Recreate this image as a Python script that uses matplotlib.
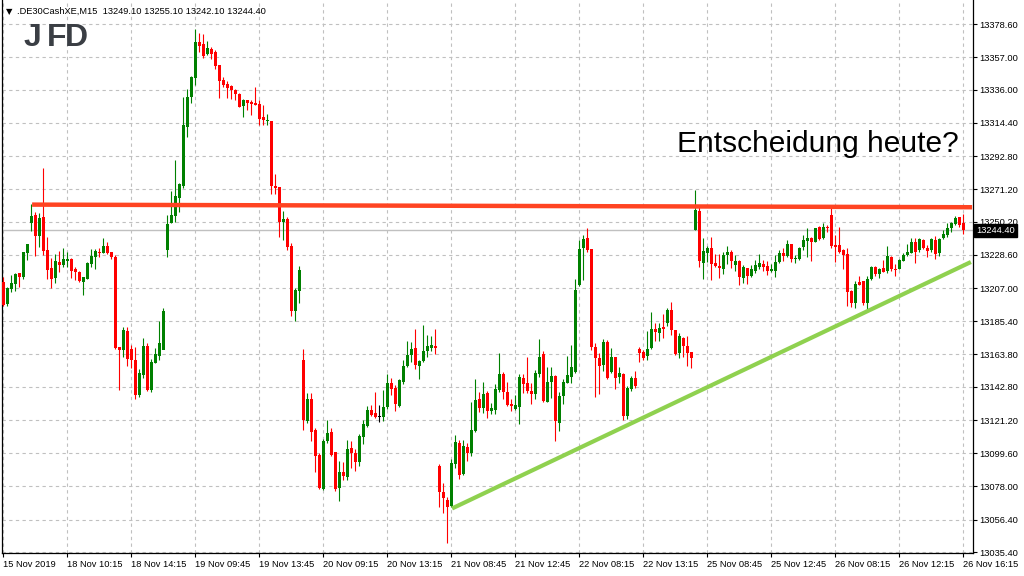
import matplotlib
matplotlib.use("Agg")
import matplotlib.pyplot as plt
import numpy as np

# DE30 15-minute candles, 15 Nov 2019 .. 26 Nov 2019 16:15
opens = [
    13211.1, 13196.6, 13206.4, 13209.6, 13216.8, 13214.4, 13229.9, 13249.4, 13254.4, 13240.8,
    13253.1, 13231.7, 13220.0, 13213.7, 13223.9, 13221.8, 13224.6, 13225.9, 13219.4, 13217.4,
    13211.1, 13213.0, 13222.4, 13227.4, 13230.6, 13230.0, 13234.3, 13230.4, 13227.2, 13168.7,
    13166.7, 13179.1, 13167.4, 13160.2, 13137.5, 13150.5, 13169.3, 13140.7, 13158.4, 13163.0,
    13166.7, 13231.7, 13249.5, 13253.8, 13265.7, 13273.3, 13311.9, 13331.2, 13343.7, 13366.9,
    13365.6, 13359.3, 13362.4, 13360.4, 13352.0, 13342.2, 13339.6, 13338.3, 13335.7, 13333.1,
    13325.3, 13329.2, 13328.1, 13327.3, 13326.8, 13318.2, 13315.8, 13315.6, 13273.5, 13272.7,
    13249.9, 13251.9, 13234.3, 13192.1, 13205.3, 13160.2, 13120.8, 13134.9, 13114.7, 13098.5,
    13076.4, 13107.8, 13113.4, 13100.4, 13077.2, 13087.4, 13084.2, 13103.0, 13099.8, 13093.7,
    13110.4, 13117.5, 13127.7, 13125.8, 13123.0, 13123.4, 13129.7, 13145.3, 13142.2, 13130.5,
    13145.9, 13156.5, 13163.5, 13168.0, 13156.5, 13159.6, 13166.3, 13168.2, 13169.5, 13091.3,
    13074.6, 13069.2, 13065.3, 13092.6, 13106.5, 13086.1, 13103.9, 13099.6, 13114.3, 13134.9,
    13129.2, 13139.0, 13127.1, 13127.7, 13140.7, 13151.1, 13139.4, 13131.8, 13128.4, 13129.9,
    13148.5, 13145.3, 13140.1, 13138.1, 13151.1, 13164.1, 13133.1, 13145.7, 13149.8, 13119.5,
    13136.8, 13145.5, 13149.0, 13152.6, 13209.0, 13233.2, 13239.3, 13232.4, 13168.9, 13161.7,
    13157.0, 13171.7, 13152.6, 13162.0, 13149.0, 13150.9, 13123.8, 13141.2, 13148.3, 13167.2,
    13165.6, 13162.8, 13167.8, 13180.4, 13177.6, 13181.9, 13184.5, 13192.7, 13179.7, 13164.6,
    13174.7, 13169.5, 13165.6, 13244.7, 13257.3, 13223.5, 13230.0, 13232.8, 13223.1, 13221.3,
    13219.6, 13228.5, 13230.2, 13222.0, 13224.6, 13213.7, 13219.8, 13214.8, 13218.3, 13220.9,
    13222.6, 13221.3, 13217.9, 13218.3, 13223.9, 13230.0, 13227.8, 13235.6, 13226.1, 13225.7,
    13233.9, 13237.8, 13239.5, 13237.1, 13246.5, 13239.3, 13246.5, 13254.5, 13235.0, 13235.0,
    13231.7, 13229.1, 13205.1, 13197.5, 13211.1, 13211.8, 13197.5, 13212.9, 13220.9, 13216.1,
    13220.2, 13218.3, 13227.4, 13219.6, 13219.4, 13224.8, 13228.5, 13230.0, 13237.1, 13231.7,
    13238.2, 13233.2, 13231.7, 13238.2, 13229.6, 13239.3, 13241.5, 13245.8, 13248.4, 13253.0,
    13249.1,
]
highs = [
    13214.3, 13207.8, 13215.4, 13216.9, 13217.0, 13230.6, 13235.6, 13261.6, 13256.6, 13255.5,
    13285.0, 13240.2, 13226.7, 13229.1, 13231.2, 13232.8, 13230.2, 13226.3, 13220.5, 13217.9,
    13214.3, 13223.7, 13232.2, 13232.5, 13232.8, 13239.5, 13236.9, 13230.4, 13228.3, 13168.9,
    13181.5, 13181.5, 13169.8, 13168.5, 13154.2, 13174.7, 13171.1, 13160.9, 13168.2, 13185.6,
    13193.8, 13254.5, 13270.1, 13290.2, 13275.5, 13331.2, 13336.4, 13344.8, 13375.4, 13372.6,
    13372.1, 13367.6, 13363.7, 13361.7, 13352.0, 13344.0, 13341.6, 13339.0, 13336.4, 13333.6,
    13329.9, 13329.2, 13329.2, 13337.7, 13329.2, 13326.0, 13320.1, 13315.6, 13281.1, 13272.9,
    13257.3, 13253.2, 13236.5, 13207.0, 13221.3, 13167.4, 13138.6, 13138.8, 13116.0, 13099.6,
    13108.7, 13121.2, 13115.8, 13100.6, 13094.6, 13093.9, 13108.2, 13107.6, 13102.4, 13111.9,
    13121.2, 13130.5, 13131.0, 13139.4, 13131.0, 13140.7, 13151.1, 13148.5, 13144.0, 13147.7,
    13160.2, 13172.6, 13171.9, 13180.4, 13160.2, 13183.0, 13176.5, 13175.8, 13180.4, 13092.6,
    13080.3, 13071.4, 13095.7, 13111.5, 13108.2, 13108.2, 13106.5, 13133.1, 13147.9, 13139.6,
    13146.1, 13140.1, 13132.1, 13144.6, 13164.8, 13152.6, 13145.9, 13134.7, 13137.5, 13151.1,
    13151.1, 13162.4, 13145.1, 13153.7, 13173.9, 13166.1, 13155.9, 13155.9, 13150.3, 13139.6,
    13147.7, 13163.0, 13170.0, 13212.9, 13238.2, 13241.5, 13245.8, 13232.4, 13171.1, 13164.6,
    13173.7, 13173.2, 13167.8, 13162.4, 13155.9, 13151.6, 13143.3, 13150.0, 13153.1, 13168.9,
    13166.7, 13179.1, 13191.6, 13184.1, 13184.5, 13190.1, 13193.8, 13197.7, 13179.7, 13177.6,
    13175.4, 13175.8, 13165.6, 13270.7, 13261.0, 13239.3, 13234.3, 13240.0, 13229.1, 13229.1,
    13230.6, 13234.3, 13231.7, 13228.5, 13225.2, 13222.0, 13220.2, 13222.0, 13225.2, 13228.9,
    13225.2, 13224.8, 13222.6, 13228.5, 13231.7, 13233.2, 13238.2, 13235.6, 13228.5, 13233.9,
    13241.3, 13245.8, 13240.4, 13246.2, 13247.3, 13249.1, 13248.0, 13258.8, 13241.5, 13246.9,
    13232.2, 13233.2, 13205.7, 13211.6, 13214.8, 13211.8, 13214.8, 13221.3, 13221.5, 13220.2,
    13225.2, 13234.3, 13227.8, 13222.4, 13225.7, 13229.6, 13235.6, 13239.7, 13239.3, 13239.3,
    13238.7, 13235.0, 13239.3, 13240.8, 13239.3, 13244.7, 13249.5, 13250.1, 13253.8, 13253.4,
    13255.1,
]
lows = [
    13195.3, 13195.5, 13204.6, 13205.3, 13207.8, 13212.8, 13225.2, 13244.2, 13228.0, 13233.8,
    13228.4, 13212.9, 13207.2, 13210.4, 13217.6, 13220.9, 13220.9, 13213.5, 13212.2, 13211.1,
    13202.7, 13212.9, 13220.9, 13219.5, 13227.4, 13229.6, 13229.3, 13226.1, 13167.4, 13140.7,
    13162.4, 13156.5, 13155.2, 13134.9, 13136.0, 13148.7, 13140.3, 13139.6, 13158.1, 13160.2,
    13167.2, 13227.4, 13249.1, 13250.1, 13256.6, 13272.2, 13305.4, 13327.1, 13339.0, 13360.2,
    13356.7, 13358.7, 13355.9, 13349.4, 13330.7, 13337.9, 13330.5, 13329.9, 13329.2, 13324.5,
    13318.4, 13322.7, 13319.5, 13326.0, 13313.0, 13313.0, 13313.0, 13268.1, 13268.1, 13240.2,
    13238.2, 13231.7, 13188.8, 13185.8, 13197.5, 13114.7, 13119.1, 13107.8, 13087.6, 13076.2,
    13075.7, 13106.5, 13097.8, 13075.3, 13068.8, 13082.2, 13082.2, 13089.8, 13088.1, 13091.3,
    13105.6, 13116.9, 13124.0, 13122.7, 13120.1, 13120.8, 13128.4, 13137.7, 13127.3, 13129.9,
    13144.8, 13155.9, 13159.1, 13154.6, 13147.9, 13159.1, 13162.4, 13166.1, 13164.1, 13064.5,
    13061.0, 13041.5, 13064.9, 13090.0, 13082.9, 13085.5, 13094.8, 13097.8, 13113.6, 13126.2,
    13126.0, 13122.7, 13124.9, 13124.9, 13139.6, 13134.9, 13130.3, 13127.3, 13127.7, 13118.8,
    13138.6, 13139.0, 13131.6, 13134.9, 13149.0, 13133.1, 13132.7, 13135.3, 13107.8, 13114.3,
    13131.6, 13145.1, 13145.5, 13152.0, 13208.3, 13212.2, 13230.2, 13166.7, 13136.4, 13138.1,
    13153.1, 13147.7, 13151.6, 13141.4, 13145.1, 13121.2, 13121.9, 13140.1, 13142.2, 13159.1,
    13160.2, 13160.2, 13167.4, 13172.6, 13172.6, 13174.3, 13182.3, 13176.5, 13163.5, 13161.7,
    13162.4, 13156.3, 13155.2, 13244.7, 13220.9, 13212.9, 13224.1, 13212.2, 13220.9, 13213.3,
    13215.9, 13222.4, 13220.2, 13218.1, 13209.0, 13210.1, 13209.6, 13214.4, 13217.0, 13219.4,
    13218.3, 13215.5, 13217.4, 13214.0, 13223.5, 13224.6, 13227.4, 13224.1, 13223.5, 13225.2,
    13231.7, 13227.4, 13224.8, 13236.7, 13238.2, 13238.7, 13243.6, 13233.2, 13224.1, 13229.6,
    13219.2, 13195.3, 13194.9, 13194.2, 13209.0, 13196.0, 13193.4, 13212.2, 13214.8, 13213.3,
    13217.6, 13217.0, 13218.3, 13215.0, 13219.2, 13224.6, 13227.8, 13229.6, 13223.5, 13230.6,
    13232.4, 13227.4, 13230.6, 13226.1, 13227.8, 13238.7, 13240.4, 13243.6, 13248.0, 13246.9,
    13242.1,
]
closes = [
    13196.0, 13207.2, 13210.3, 13216.1, 13214.0, 13230.2, 13235.6, 13253.8, 13240.8, 13252.3,
    13231.2, 13218.7, 13212.9, 13224.6, 13222.0, 13225.9, 13225.9, 13218.3, 13217.6, 13211.6,
    13214.2, 13223.3, 13227.8, 13231.3, 13230.0, 13234.3, 13229.6, 13227.0, 13167.8, 13166.7,
    13179.7, 13160.7, 13160.2, 13137.5, 13152.0, 13169.3, 13140.7, 13159.1, 13164.1, 13171.5,
    13192.1, 13248.6, 13254.5, 13266.8, 13274.6, 13313.0, 13331.2, 13344.2, 13366.9, 13364.5,
    13358.0, 13363.0, 13359.1, 13351.5, 13341.6, 13339.0, 13337.2, 13335.7, 13333.1, 13324.7,
    13329.2, 13327.3, 13326.8, 13326.0, 13316.9, 13316.2, 13316.4, 13273.5, 13272.2, 13249.9,
    13251.9, 13233.5, 13192.1, 13205.7, 13218.7, 13121.2, 13134.9, 13113.6, 13098.0, 13076.8,
    13107.6, 13113.0, 13098.5, 13076.4, 13087.4, 13085.0, 13102.4, 13099.8, 13093.7, 13111.0,
    13118.6, 13127.7, 13124.5, 13123.4, 13123.0, 13129.7, 13145.3, 13141.6, 13131.6, 13147.2,
    13156.3, 13163.5, 13167.6, 13157.2, 13159.6, 13166.3, 13169.3, 13170.2, 13168.2, 13074.6,
    13070.3, 13064.9, 13093.5, 13107.1, 13085.5, 13104.3, 13099.6, 13114.7, 13134.2, 13129.2,
    13138.1, 13127.3, 13129.2, 13141.4, 13151.1, 13139.6, 13131.0, 13130.5, 13131.0, 13149.4,
    13144.8, 13140.1, 13138.1, 13151.8, 13162.4, 13133.8, 13145.9, 13149.8, 13120.6, 13136.8,
    13145.9, 13150.5, 13155.7, 13205.7, 13232.4, 13238.9, 13231.7, 13168.9, 13161.7, 13156.5,
    13171.7, 13148.3, 13162.0, 13148.3, 13151.6, 13123.8, 13142.0, 13148.3, 13143.5, 13164.6,
    13161.7, 13167.4, 13180.4, 13178.6, 13181.2, 13180.6, 13192.7, 13179.7, 13164.1, 13176.0,
    13169.3, 13165.0, 13161.7, 13257.7, 13224.8, 13231.1, 13232.8, 13222.6, 13221.3, 13220.0,
    13228.5, 13230.6, 13224.6, 13224.6, 13214.4, 13220.5, 13214.8, 13219.4, 13222.0, 13223.3,
    13220.9, 13218.3, 13219.6, 13224.1, 13230.0, 13227.8, 13235.6, 13225.7, 13226.7, 13233.2,
    13238.2, 13239.5, 13237.1, 13245.8, 13238.9, 13246.9, 13245.8, 13234.3, 13233.9, 13230.6,
    13228.5, 13204.6, 13197.5, 13209.6, 13209.0, 13197.5, 13212.9, 13220.9, 13216.1, 13219.4,
    13217.6, 13228.0, 13219.2, 13218.9, 13225.2, 13228.5, 13230.6, 13237.1, 13230.6, 13238.7,
    13232.8, 13231.1, 13238.9, 13229.1, 13238.7, 13241.9, 13245.8, 13249.1, 13252.3, 13248.0,
    13244.4,
]

date_labels = ["15 Nov 2019", "18 Nov 10:15", "18 Nov 14:15", "19 Nov 09:45",
               "19 Nov 13:45", "20 Nov 09:15", "20 Nov 13:15", "21 Nov 08:45",
               "21 Nov 12:45", "22 Nov 08:15", "22 Nov 13:15", "25 Nov 08:45",
               "25 Nov 12:45", "26 Nov 08:15", "26 Nov 12:15", "26 Nov 16:15"]
price_ticks = [13378.60, 13357.00, 13336.00, 13314.40, 13292.80, 13271.20,
               13250.20, 13228.60, 13207.00, 13185.40, 13163.80, 13142.80,
               13121.20, 13099.60, 13078.00, 13056.40, 13035.40]

# hand drawn lines (bar index, price)
resist_x = [7.2, 242.2]
resist_y = [13261.2, 13259.5]
support_x = [112.2, 241.9]
support_y = [13063.7, 13223.9]

symbol = ".DE30CashXE,M15"
last_ohlc = [13249.10, 13255.10, 13242.10, 13244.40]

plt.rcParams['font.family'] = ['Liberation Sans', 'DejaVu Sans']

fig = plt.figure(figsize=(10.24, 5.76), dpi=100)
fig.patch.set_facecolor('white')
ax = fig.add_axes((2 / 1024, 23 / 576, 971 / 1024, 553 / 576))
ax.set_xlim(-0.325, 242.425)
ax.set_ylim(13034.75, 13394.2)

o = np.array(opens)
h = np.array(highs)
l = np.array(lows)
c = np.array(closes)
x = np.arange(len(o))
colors = np.where(c > o, '#008000', np.where(c < o, '#ff0000', '#000000'))

ax.vlines(x, l, h, colors=colors, lw=0.8, zorder=3)
ax.bar(x, np.maximum(np.abs(c - o), 0.7), width=0.75, bottom=np.minimum(o, c),
       color=colors, lw=0, zorder=4)

# bid line
ax.axhline(last_ohlc[3], color='#c0c0c0', lw=1.0, zorder=2)

ax.plot(resist_x, resist_y, color='#ff4422', lw=3.2, solid_capstyle='butt', zorder=6)
ax.plot(support_x, support_y, color='#8fd14f', lw=3.0, solid_capstyle='butt', zorder=6)

# grid + axes
ax.set_xticks(np.arange(0, len(o), 16))
ax.set_xticklabels(date_labels)
for t in ax.get_xticklabels():
    t.set_horizontalalignment('left')
ax.set_yticks(price_ticks)
ax.set_yticklabels(['%.2f' % v for v in price_ticks])
ax.yaxis.tick_right()
ax.tick_params(axis='both', labelsize=6.7, color='black', length=3, width=0.8,
               direction='out')
ax.tick_params(axis='x', pad=2)
ax.tick_params(axis='y', pad=1.5)
ax.grid(True, color='#c0c0c0', linestyle=(0, (3, 3)), lw=0.8, zorder=0)
ax.set_axisbelow(True)
for side in ['left', 'right', 'bottom']:
    ax.spines[side].set_color('black')
    ax.spines[side].set_linewidth(0.9)
ax.spines['top'].set_visible(False)

# current price box
ax.text(1.003, last_ohlc[3], '%.2f' % last_ohlc[3], transform=ax.get_yaxis_transform(),
        ha='left', va='center', fontsize=6.7, color='white', zorder=10, clip_on=False,
        bbox=dict(boxstyle='square,pad=0.25', fc='black', ec='black'))

# header
fig.text(6 / 1024, 1 - 14 / 576, '\u25bc', fontsize=6, family=['DejaVu Sans'],
         color='black', va='baseline')
fig.text(17 / 1024, 1 - 14 / 576,
         symbol + '  ' + ' '.join('%.2f' % v for v in last_ohlc),
         fontsize=6.7, color='black', va='baseline')

# logo
for letter, px in [('J', 24), ('F', 47), ('D', 65)]:
    fig.text(px / 1024, 1 - 46 / 576, letter, fontsize=23, fontweight='bold',
             color='#3a3e44', va='baseline')

fig.text(677 / 1024, 1 - 152 / 576, 'Entscheidung heute?', fontsize=21.5,
         color='black', va='baseline')

fig.savefig('out.png', dpi=100, facecolor='white')
